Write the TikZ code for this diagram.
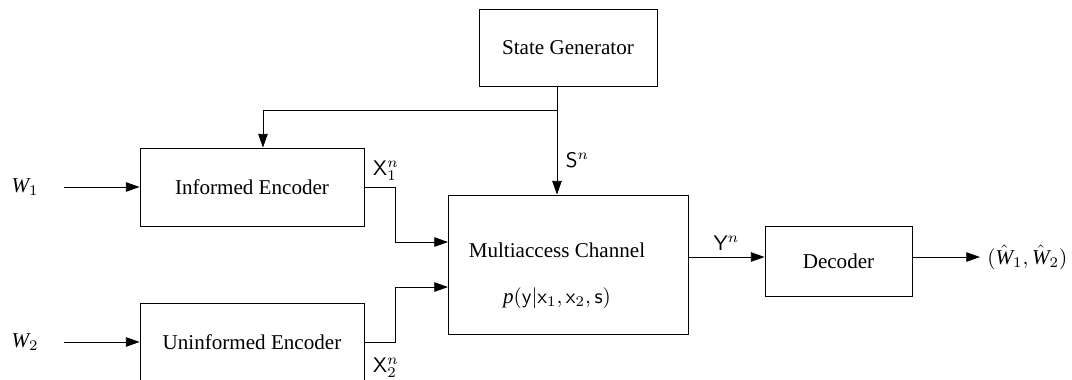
\documentclass[tikz,border=0pt]{standalone}
\usepackage{fontspec}
\setmainfont{Liberation Serif}
\usetikzlibrary{calc,arrows.meta}

\begin{document}
\begin{tikzpicture}[>={Triangle[length=6.5pt,width=4.5pt]},
	bloc/.style={draw,inner sep=0pt},
	lab/.style={inner sep=0pt}]
			          %\draw[help lines] (0,0) grid (18,6);
			          \useasboundingbox (0,0) rectangle (17.867,6.317);
			          %STATE GENERATOR
			          \node[bloc,minimum width=2.967cm,minimum height=1.283cm](SG) at (9.467,5.517){State Generator};
				  %ENCODERS
				  \node[bloc,minimum width=3.733cm,minimum height=1.3cm](E1) at (4.2,3.2){Informed Encoder};
				  \node[bloc,minimum width=3.733cm,minimum height=1.3cm](E2) at (4.2,0.617){Uninformed Encoder};
				  %CHANNEL
				  \node[bloc,minimum width=4cm,minimum height=2.317cm](MAC) at (9.467,1.908){};
				  \node(MACt) at (9.283,2.15){Multiaccess Channel};
				  \node(MACp) at (9.283,1.35){$\mathit{p}(\mathsf{y}|\mathsf{x}_1,\mathsf{x}_2,\mathsf{s})$};
				  %DECODER
				  \node[bloc,minimum width=2.45cm,minimum height=1.167cm](D) at (13.975,1.967){Decoder};
				  %MESSAGES
				  \node(W1) at (0.417,3.2){$\mathit{W}_1$};
				  \node(W2) at (0.417,0.617){$\mathit{W}_2$};
				  \node[right](Wh) at (16.333,2.033){$(\hat{\mathit{W}}_1,\hat{\mathit{W}}_2)$};
				  \draw[->] ([xshift=0.3cm]W1.east) -- (E1.west);
				  \draw[->] ([xshift=0.3cm]W2.east) -- (E2.west);
				  %STATE S
				  \coordinate(S) at (9.283,4.483);
				  \coordinate(Sl) at (4.383,4.483);
				  \draw[->] (SG.south -| S) -- (MAC.north -| S) node[pos=0.68,right=4pt,lab]{$\mathsf{S}^n$};
				  \draw[->] (S) -- (Sl) -- (Sl |- E1.north);
				  %X1 X2
				  \coordinate(M1) at (7.467,2.283);
				  \coordinate(M2) at (7.467,1.533);
				  \draw[->] (E1.east) -- ++(0.517,0) |- (M1);
				  \draw[->] (E2.east) -- ++(0.517,0) |- (M2);
				  \node[lab](X1) at (6.433,3.47){$\mathsf{X}_1^n$};
				  \node[lab](X2) at (6.433,0.19){$\mathsf{X}_2^n$};
				  %Y
				  \draw[->] (MAC.east |- Wh) -- (D.west |- Wh) node[midway,above=3pt,lab]{$\mathsf{Y}^n$};
				  \draw[->] (D.east |- Wh) -- (Wh.west);
				  \end{tikzpicture}
\end{document}
